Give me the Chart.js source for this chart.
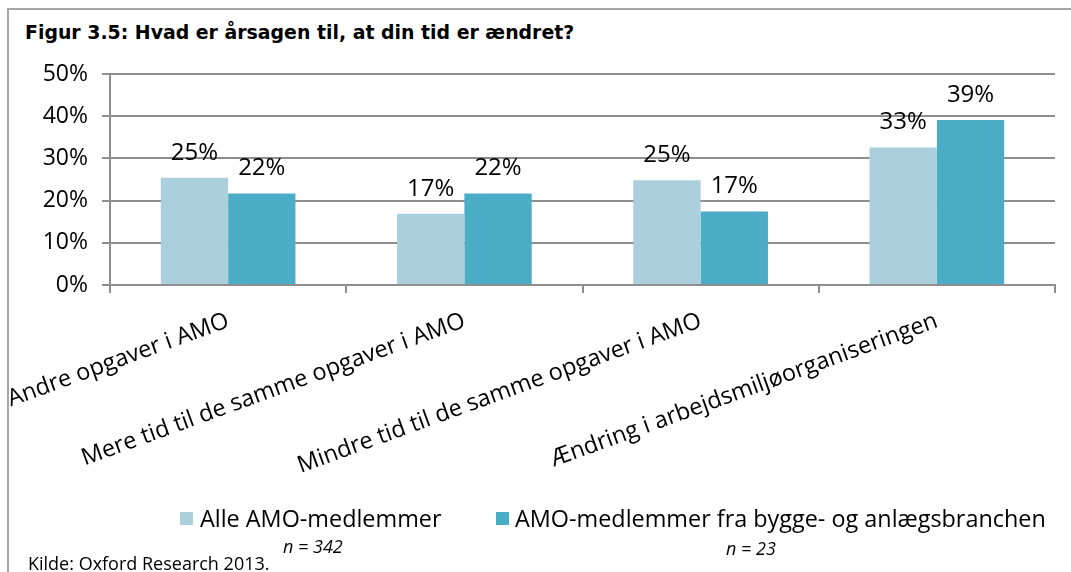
<!DOCTYPE html>
<html>
<head>
<meta charset="utf-8">
<script src="https://cdn.jsdelivr.net/npm/chart.js@4.4.0/dist/chart.umd.min.js"></script>
<style>
  body { margin: 0; background: #fff; width: 1071px; height: 572px; overflow: hidden; position: relative; font-family: 'Open Sans', sans-serif; }
  #frame { position: absolute; left: 7px; top: 8px; right: -10px; bottom: -10px; border-left: 2px solid #a6a6a6; border-top: 2px solid #a6a6a6; }
  #title { position: absolute; left: 25px; top: 21px; font: bold 18.9px 'DejaVu Sans', sans-serif; color: #000; white-space: nowrap; }
  #chart { position: absolute; left: 0; top: 0; }
  .leg { position: absolute; font-size: 23.4px; color: #000; white-space: nowrap; line-height: 28px; }
  .sw { position: absolute; width: 13px; height: 13px; }
  .n { position: absolute; font-size: 18px; font-style: italic; white-space: nowrap; line-height: 20px; }
  #kilde { position: absolute; left: 28px; top: 553px; font-size: 18px; white-space: nowrap; line-height: 20px; }
</style>
</head>
<body>
<div id="frame"></div>
<div id="title">Figur 3.5: Hvad er årsagen til, at din tid er ændret?</div>
<canvas id="chart" width="1071" height="572"></canvas>
<div class="sw" style="left:180px;top:512px;background:#abcfdd"></div>
<div class="leg" style="left:200px;top:504px">Alle AMO-medlemmer</div>
<div class="n" style="left:283px;top:536px">n = 342</div>
<div class="sw" style="left:496px;top:512px;background:#4bacc6"></div>
<div class="leg" style="left:515px;top:504px">AMO-medlemmer fra bygge- og anlægsbranchen</div>
<div class="n" style="left:726px;top:538px">n = 23</div>
<div id="kilde">Kilde: Oxford Research 2013.</div>
<script>
const categories = [
  'Andre opgaver i AMO',
  'Mere tid til de samme opgaver i AMO',
  'Mindre tid til de samme opgaver i AMO',
  'Ændring i arbejdsmiljøorganiseringen',
];
const alleAmo = [25.4, 16.9, 24.8, 32.6];
const byggeAnlaeg = [21.7, 21.7, 17.4, 39.1];
const yTicks = [0, 10, 20, 30, 40, 50];

const font = "'Open Sans', sans-serif";
const grey = '#8e8e8e';

const valueLabels = {
  id: 'valueLabels',
  afterDatasetsDraw(chart) {
    const ctx = chart.ctx;
    ctx.save();
    ctx.font = '24px ' + font;
    ctx.fillStyle = '#000';
    ctx.textAlign = 'center';
    ctx.textBaseline = 'middle';
    chart.data.datasets.forEach((ds, i) => {
      chart.getDatasetMeta(i).data.forEach((bar, j) => {
        ctx.fillText(Math.round(ds.data[j]) + '%', bar.x, bar.y - 25);
      });
    });
    ctx.restore();
  }
};

new Chart(document.getElementById('chart'), {
  type: 'bar',
  data: {
    labels: categories,
    datasets: [
      { label: 'Alle AMO-medlemmer', data: alleAmo, backgroundColor: '#abcfdd' },
      { label: 'AMO-medlemmer fra bygge- og anlægsbranchen', data: byggeAnlaeg, backgroundColor: '#4bacc6' },
    ]
  },
  options: {
    responsive: false,
    animation: false,
    events: [],
    layout: { padding: { left: 20, top: 74, right: 16, bottom: 87 } },
    datasets: { bar: { categoryPercentage: 0.57, barPercentage: 1 } },
    plugins: { legend: { display: false }, tooltip: { enabled: false } },
    scales: {
      x: {
        afterFit(scale) {
          scale.height = 200;
          // labels are allowed to run past the plot edges, as in the original
          scale.paddingLeft = 0;
          scale.paddingRight = 0;
        },
        grid: { drawOnChartArea: false, drawTicks: true, tickLength: 8, color: grey, lineWidth: 2 },
        border: { color: grey, width: 2 },
        ticks: { minRotation: 20, maxRotation: 20, padding: 14, color: '#000', font: { family: font, size: 23.5 } }
      },
      y: {
        min: 0, max: 50,
        afterFit(scale) { scale.width = 90; },
        afterBuildTicks(scale) { scale.ticks = yTicks.map(v => ({ value: v })); },
        grid: { color: grey, lineWidth: 2, tickLength: 8 },
        border: { color: grey, width: 2 },
        ticks: { padding: 14, color: '#000', font: { family: font, size: 23 }, callback: v => v + '%' }
      }
    }
  },
  plugins: [valueLabels]
});
</script>
</body>
</html>
